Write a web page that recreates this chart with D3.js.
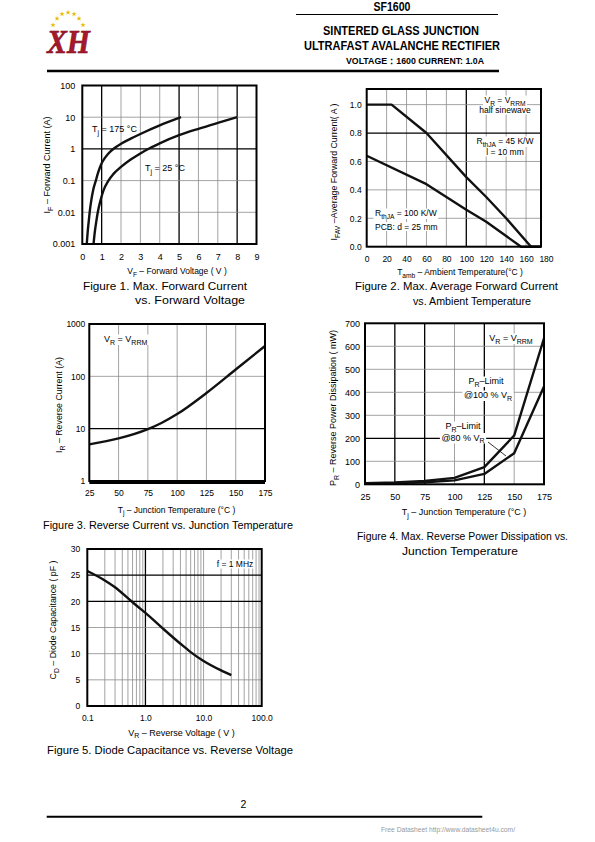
<!DOCTYPE html>
<html><head><meta charset="utf-8">
<script src="https://cdn.jsdelivr.net/npm/d3@7"></script>
<style>
body{margin:0;background:#fff;}
svg{display:block;font-family:"Liberation Sans",Arial,sans-serif;}
</style></head><body>
<svg id="page" width="595" height="842"></svg>
<script>
// ---------- DATA ----------
// Figure 1: forward current vs forward voltage
const fig1XTicks = [0,1,2,3,4,5,6,7,8,9];
const fig1YTicks = [0.001,0.01,0.1,1,10,100];
const fig1YLabels = ["0.001","0.01","0.1","1","10","100"];
const fig1Vf175 = [0.23,0.28,0.33,0.38,0.47,0.56,0.7,0.8,0.9,1.0,1.15,1.35,1.65,2.0,2.5,3.0,4.0,5.1];
const fig1If175 = [0.001,0.0025,0.005,0.01,0.025,0.05,0.1,0.166,0.25,0.35,0.5,0.72,1.05,1.45,2.1,2.95,5.5,10];
const fig1Vf25 = [0.58,0.65,0.72,0.8,0.95,1.1,1.35,1.6,2.0,2.5,3.0,3.5,4.0,5.0,6.0,7.0,8.0];
const fig1If25 = [0.001,0.0025,0.005,0.01,0.025,0.05,0.1,0.16,0.27,0.46,0.72,1.07,1.5,2.7,4.3,6.6,10];

// Figure 2: average forward current vs ambient temperature
const fig2XTicks = [0,20,40,60,80,100,120,140,160,180];
const fig2YTicks = [0,0.2,0.4,0.6,0.8,1.0];
const fig2T45 = [0,25,60,100,120,140,165,175];
const fig2I45 = [1.0,1.0,0.8,0.49,0.35,0.2,0,0];
const fig2T100 = [0,60,100,120,155,175];
const fig2I100 = [0.64,0.44,0.26,0.175,0,0];

// Figure 3: reverse current vs junction temperature
const fig3XTicks = [25,50,75,100,125,150,175];
const fig3YTicks = [1,10,100,1000];
const fig3T = [25,50,75,87,100,125,150,175];
const fig3I = [5.0,6.5,9.8,13,19,48,135,380];

// Figure 4: reverse power dissipation vs junction temperature
const fig4XTicks = [25,50,75,100,125,150,175];
const fig4YTicks = [0,100,200,300,400,500,600,700];
const fig4T = [25,50,75,100,125,150,175];
const fig4P100 = [5,8,15,28,75,212,635];
const fig4P80 = [3,5,9,17,45,135,425];

// Figure 5: diode capacitance vs reverse voltage
const fig5XTicks = [0.1,1,10,100];
const fig5XLabels = ["0.1","1.0","10.0","100.0"];
const fig5YTicks = [0,5,10,15,20,25,30];
const fig5V = [0.1,0.2,0.3,0.5,0.7,1.0,2.0,4.0,6.0,10,20,30];
const fig5C = [25.8,24.0,22.7,20.6,19.2,17.8,14.8,11.9,10.3,8.6,6.8,5.9];

// ---------- DRAWING ----------
const FONT = '"Liberation Sans", Arial, sans-serif';
const svg = d3.select('#page');

function rich(t, str, subSize) {
  const parts = str.split(/(_\{[^}]*\})/);
  let shifted = false;
  parts.forEach(p => {
    if (!p) return;
    if (p.startsWith('_{')) {
      t.append('tspan').attr('dy', 2.5).attr('font-size', subSize).text(p.slice(2, -1));
      shifted = true;
    } else {
      const s = t.append('tspan').text(p);
      if (shifted) { s.attr('dy', -2.5); shifted = false; }
    }
  });
}

function label(g, x, y, str, o = {}) {
  const size = o.size || 9;
  const t = g.append('text').attr('x', x).attr('y', y)
    .attr('font-size', size).attr('font-family', FONT)
    .attr('text-anchor', o.anchor || 'start').attr('fill', o.fill || '#000');
  if (o.weight) t.attr('font-weight', o.weight);
  if (o.rotate) t.attr('transform', `rotate(-90,${x},${y})`);
  if (o.len) t.attr('textLength', o.len).attr('lengthAdjust', 'spacingAndGlyphs');
  rich(t, str, o.sub || size * 0.78);
  if (o.bg) {
    const b = t.node().getBBox();
    o.bg.append('rect')
      .attr('x', b.x - 1.5).attr('y', b.y + 0.5).attr('width', b.width + 3).attr('height', b.height - 1)
      .attr('fill', '#fff');
  }
  return t;
}

function plot(o) {
  const g = svg.append('g');
  const x = (o.xLog ? d3.scaleLog() : d3.scaleLinear()).domain(o.xDomain).range([o.left, o.right]);
  const y = (o.yLog ? d3.scaleLog() : d3.scaleLinear()).domain(o.yDomain).range([o.bottom, o.top]);
  const grid = g.append('g');
  (o.vGrid || []).forEach(v => {
    const thick = (o.vThick || []).includes(v);
    grid.append('line').attr('x1', x(v)).attr('x2', x(v)).attr('y1', o.top).attr('y2', o.bottom)
      .attr('stroke', thick ? '#000' : '#8c8c8c').attr('stroke-width', thick ? 1.3 : 0.8);
  });
  (o.hGrid || []).forEach(v => {
    const thick = (o.hThick || []).includes(v);
    grid.append('line').attr('y1', y(v)).attr('y2', y(v)).attr('x1', o.left).attr('x2', o.right)
      .attr('stroke', thick ? '#000' : '#8c8c8c').attr('stroke-width', thick ? 1.3 : 0.8);
  });
  const bg = g.append('g');
  const ann = g.append('g');
  const line = d3.line().x(d => x(d[0])).y(d => y(d[1])).curve(o.curve || d3.curveLinear);
  o.series.forEach(s => {
    g.append('path').datum(d3.zip(s[0], s[1])).attr('d', line)
      .attr('fill', 'none').attr('stroke', '#111').attr('stroke-width', 2.4)
      .attr('stroke-linejoin', 'round').attr('stroke-linecap', 'butt');
  });
  g.append('rect').attr('x', o.left).attr('y', o.top)
    .attr('width', o.right - o.left).attr('height', o.bottom - o.top)
    .attr('fill', 'none').attr('stroke', '#000').attr('stroke-width', 2);
  const xa = d3.axisBottom(x).tickValues(o.xTicks).tickSize(0).tickPadding(o.xPad || 8);
  if (o.xFmt) xa.tickFormat(o.xFmt);
  const gx = g.append('g').attr('transform', `translate(0,${o.bottom})`).call(xa);
  gx.select('.domain').remove();
  gx.attr('font-family', FONT).attr('font-size', o.tickSize || 8.5);
  gx.selectAll('text').attr('fill', '#000');
  const ya = d3.axisLeft(y).tickValues(o.yTicks).tickSize(0).tickPadding(o.yPad || 5);
  if (o.yFmt) ya.tickFormat(o.yFmt);
  const gy = g.append('g').attr('transform', `translate(${o.left},0)`).call(ya);
  gy.select('.domain').remove();
  gy.attr('font-family', FONT).attr('font-size', o.tickSize || 8.5);
  gy.selectAll('text').attr('fill', '#000');
  return { g, bg, ann, x, y };
}

// ---------- HEADER ----------
const hdr = svg.append('g');
label(hdr, 392, 10.5, 'SF1600', { size: 13.5, weight: 'bold', anchor: 'middle', len: 37 });
hdr.append('line').attr('x1', 296).attr('x2', 498).attr('y1', 14.5).attr('y2', 14.5).attr('stroke', '#000').attr('stroke-width', 1.2);
label(hdr, 401, 35, 'SINTERED  GLASS  JUNCTION', { size: 12.5, weight: 'bold', anchor: 'middle', len: 156 });
label(hdr, 402, 49.5, 'ULTRAFAST  AVALANCHE  RECTIFIER', { size: 12.5, weight: 'bold', anchor: 'middle', len: 196 });
label(hdr, 415, 64, 'VOLTAGE：1600 CURRENT: 1.0A', { size: 9.5, weight: 'bold', anchor: 'middle', len: 138 });
hdr.append('line').attr('x1', 47).attr('x2', 499).attr('y1', 71).attr('y2', 71).attr('stroke', '#000').attr('stroke-width', 2.5);
// logo
const stars = [[53,25],[57,18.5],[62,14],[68,12.5],[74,14],[79,18.5],[83,25]];
stars.forEach(p => hdr.append('path').attr('d', d3.symbol(d3.symbolStar).size(9)())
  .attr('transform', `translate(${p[0]},${p[1]})`).attr('fill', '#e8b800'));
hdr.append('text').attr('x', 47).attr('y', 53).attr('font-family', '"Liberation Serif", serif')
  .attr('font-size', 34).attr('font-weight', 'bold').attr('font-style', 'italic')
  .attr('fill', '#a8182c').attr('stroke', '#7a0c1c').attr('stroke-width', 0.6)
  .attr('textLength', 43).attr('lengthAdjust', 'spacingAndGlyphs').text('XH');

const CAP = 11.2;

// ---------- FIGURE 1 ----------
const f1 = plot({
  left: 82.3, right: 256.5, top: 85.5, bottom: 244,
  xDomain: [0, 9], yLog: true, yDomain: [0.001, 100],
  xTicks: fig1XTicks, yTicks: fig1YTicks,
  yFmt: (d, i) => fig1YLabels[i],
  vGrid: [1,2,3,4,5,6,7,8], vThick: [1,5,8],
  hGrid: [0.01,0.1,1,10], hThick: [1],
  series: [[fig1Vf175, fig1If175], [fig1Vf25, fig1If25]],
  curve: d3.curveMonotoneX, xPad: 10, yPad: 7, tickSize: 9
});
label(f1.ann, 92, 132, 'T_{j} = 175 °C', { size: 9 });
label(f1.ann, 145, 171, 'T_{j} = 25 °C', { size: 9 });
label(svg, 177, 274, 'V_{F} – Forward Voltage ( V )', { size: 8.5, anchor: 'middle' });
label(svg, 50, 165, 'I_{F} – Forward Current (A)', { size: 9, anchor: 'middle', rotate: true });
label(svg, 83, 290, 'Figure 1.  Max. Forward Current', { size: CAP, len: 164 });
label(svg, 245, 303.5, 'vs. Forward Voltage', { size: CAP, anchor: 'end', len: 110 });

// ---------- FIGURE 2 ----------
const f2 = plot({
  left: 366.7, right: 541, top: 89, bottom: 246.7,
  xDomain: [0, 175], yDomain: [0, 1.11],
  xTicks: fig2XTicks, yTicks: fig2YTicks, yFmt: d3.format('.1f'),
  vGrid: [20,40,60,80,100,120,140,160], vThick: [100],
  hGrid: [0.2,0.4,0.6,0.8,1.0], hThick: [0.8],
  series: [[fig2T45, fig2I45], [fig2T100, fig2I100]],
  xPad: 9, yPad: 5
});
label(f2.ann, 505, 103, 'V_{R} = V_{RRM}', { size: 8.5, anchor: 'middle', bg: f2.bg });
label(f2.ann, 505, 113, 'half sinewave', { size: 8.5, anchor: 'middle', bg: f2.bg });
label(f2.ann, 505, 144, 'R_{thJA} = 45 K/W', { size: 8.5, anchor: 'middle', bg: f2.bg });
label(f2.ann, 505, 155, 'l = 10 mm', { size: 8.5, anchor: 'middle', bg: f2.bg });
label(f2.ann, 375, 216, 'R_{thJA} = 100 K/W', { size: 8.5, bg: f2.bg });
label(f2.ann, 375, 229.5, 'PCB: d = 25 mm', { size: 8.5, bg: f2.bg });
label(svg, 460, 275, 'T_{amb} – Ambient Temperature(°C )', { size: 8.5, anchor: 'middle' });
label(svg, 337, 172, 'I_{FAV} –Average Forward Current( A )', { size: 8.8, anchor: 'middle', rotate: true });
label(svg, 355, 290, 'Figure 2. Max. Average Forward Current', { size: CAP, len: 203 });
label(svg, 413, 305, 'vs. Ambient Temperature', { size: CAP, len: 118 });

// ---------- FIGURE 3 ----------
const f3 = plot({
  left: 89.3, right: 265, top: 324, bottom: 481,
  xDomain: [25, 175], yLog: true, yDomain: [1, 1000],
  xTicks: fig3XTicks, yTicks: fig3YTicks, yFmt: d3.format('d'),
  vGrid: [50,75,100,125,150], vThick: [],
  hGrid: [10,100], hThick: [10],
  series: [[fig3T, fig3I]],
  curve: d3.curveMonotoneX, xPad: 9, yPad: 4
});
f3.g.append('line').attr('x1', 89.3).attr('x2', 265).attr('y1', 482).attr('y2', 482)
  .attr('stroke', '#000').attr('stroke-width', 4);
label(f3.ann, 104, 342, 'V_{R} = V_{RRM}', { size: 9, bg: f3.bg });
label(svg, 176.5, 512.5, 'T_{j} – Junction Temperature (°C )', { size: 8.5, anchor: 'middle' });
label(svg, 62, 405, 'I_{R} – Reverse Current (A)', { size: 8.8, anchor: 'middle', rotate: true });
label(svg, 43, 528.5, 'Figure 3. Reverse Current vs. Junction Temperature', { size: CAP, len: 250 });

// ---------- FIGURE 4 ----------
const f4 = plot({
  left: 365, right: 544, top: 323.3, bottom: 484.3,
  xDomain: [25, 175], yDomain: [0, 700],
  xTicks: fig4XTicks, yTicks: fig4YTicks, yFmt: d3.format('d'),
  vGrid: [50,75,100,125,150], vThick: [50,75,125],
  hGrid: [100,200,300,400,500,600], hThick: [200],
  series: [[fig4T, fig4P100], [fig4T, fig4P80]],
  xPad: 9, yPad: 5, tickSize: 9
});
label(f4.ann, 511, 341, 'V_{R} = V_{RRM}', { size: 9, anchor: 'middle', bg: f4.bg });
label(f4.ann, 486, 384, 'P_{R}–Limit', { size: 9, anchor: 'middle', bg: f4.bg });
label(f4.ann, 488, 398, '@100 % V_{R}', { size: 9, anchor: 'middle', bg: f4.bg });
label(f4.ann, 463, 429, 'P_{R}–Limit', { size: 9, anchor: 'middle', bg: f4.bg });
label(f4.ann, 463, 440.5, '@80 % V_{R}', { size: 9, anchor: 'middle', bg: f4.bg });
f4.ann.append('line').attr('x1', 488).attr('y1', 442).attr('x2', 506).attr('y2', 456)
  .attr('stroke', '#000').attr('stroke-width', 0.8);
label(svg, 464, 515, 'T_{j} – Junction Temperature (°C )', { size: 9, anchor: 'middle' });
label(svg, 336, 408, 'P_{R} – Reverse Power Dissipation ( mW)', { size: 9, anchor: 'middle', rotate: true });
label(svg, 357, 540, 'Figure 4. Max. Reverse Power Dissipation vs.', { size: CAP, len: 211 });
label(svg, 460, 555, 'Junction  Temperature', { size: CAP, anchor: 'middle', len: 116 });

// ---------- FIGURE 5 ----------
const minor5 = [];
[0.1, 1, 10].forEach(d => { for (let k = 2; k <= 9; k++) minor5.push(+(d * k).toPrecision(3)); });
const f5 = plot({
  left: 87.3, right: 261.7, top: 549, bottom: 706,
  xLog: true, xDomain: [0.1, 100], yDomain: [0, 30],
  xTicks: fig5XTicks, xFmt: (d, i) => fig5XLabels[i], yTicks: fig5YTicks, yFmt: d3.format('d'),
  vGrid: minor5.concat([1, 10]), vThick: [1],
  hGrid: [5,10,15,20,25], hThick: [20,25],
  series: [[fig5V, fig5C]],
  curve: d3.curveMonotoneX, xPad: 9, yPad: 7
});
label(f5.ann, 235, 567, 'f = 1 MHz', { size: 8.5, anchor: 'middle', bg: f5.bg });
label(svg, 181.5, 735.5, 'V_{R} – Reverse Voltage ( V )', { size: 9, anchor: 'middle' });
label(svg, 56, 620, 'C_{D} – Diode Capacitance ( pF )', { size: 8.8, anchor: 'middle', rotate: true });
label(svg, 47, 753.5, 'Figure 5. Diode Capacitance vs. Reverse Voltage', { size: CAP, len: 246 });

// ---------- FOOTER ----------
label(svg, 243.5, 808, '2', { size: 10.5, anchor: 'middle' });
svg.append('line').attr('x1', 46.7).attr('x2', 482.3).attr('y1', 816.7).attr('y2', 816.7)
  .attr('stroke', '#000').attr('stroke-width', 2);
label(svg, 381, 831.5, 'Free Datasheet http://www.datasheet4u.com/', { size: 6.5, fill: '#999', len: 134 });
</script>
</body></html>
